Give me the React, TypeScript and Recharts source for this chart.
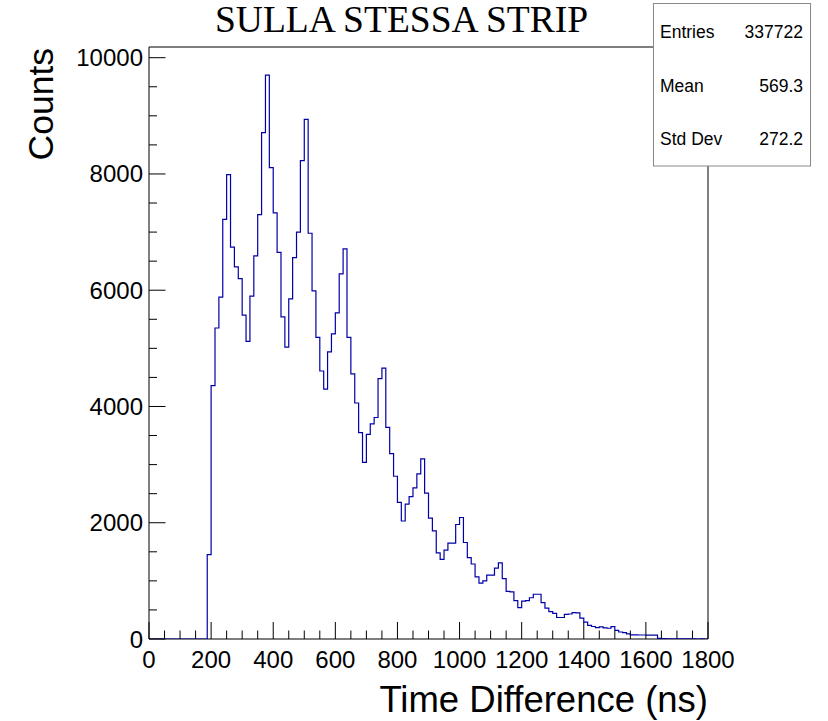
import React from 'react';
import { LineChart, Line, XAxis, YAxis, ReferenceArea } from 'recharts';

// Histogram: 144 bins of 12.5 ns from 0 to 1800 ns
const BIN_WIDTH = 12.5;
const X_MAX = 1800;
const Y_MAX = 10184;

const counts: number[] = [
  0, 0, 0, 0, 0, 0, 0, 0, 0, 0, 0, 0, 0, 0, 0,
  1450, 4360, 5350, 5880, 7220, 7990, 6740, 6400, 6200, 5570,
  5120, 5900, 6590, 7300, 8710, 9700, 8110, 7330, 6650, 5540,
  5020, 5850, 6560, 7000, 8230, 8940, 6980, 5990, 5190, 4610,
  4300, 4940, 5250, 5610, 6280, 6710, 5190, 4560, 4060, 3550,
  3040, 3520, 3700, 3810, 4480, 4660, 3640, 3190, 2800, 2350,
  2030, 2320, 2450, 2600, 2840, 3100, 2510, 2080, 1860, 1480,
  1370, 1530, 1650, 1650, 1970, 2090, 1660, 1400, 1290, 1070,
  960, 1000, 1100, 1100, 1220, 1310, 1040, 820, 810, 660,
  540, 650, 660, 710, 770, 770, 625, 530, 470, 440,
  370, 370, 425, 430, 455, 450, 360, 290, 235, 215,
  195, 210, 190, 185, 212, 150, 120, 110, 88, 70,
  70, 69, 69, 68, 68, 65, 12, 5, 4, 3,
  3, 2, 2, 1, 1, 1, 0, 1, 0,
];

const xTicks = [
  0, 50, 100, 150, 200, 250, 300, 350, 400, 450, 500, 550, 600, 650, 700, 750,
  800, 850, 900, 950, 1000, 1050, 1100, 1150, 1200, 1250, 1300, 1350, 1400,
  1450, 1500, 1550, 1600, 1650, 1700, 1750, 1800,
];
const xLabelTicks = [0, 200, 400, 600, 800, 1000, 1200, 1400, 1600, 1800];
const yTicks = [
  0, 500, 1000, 1500, 2000, 2500, 3000, 3500, 4000, 4500, 5000, 5500, 6000,
  6500, 7000, 7500, 8000, 8500, 9000, 9500, 10000,
];
const yLabelTicks = [0, 2000, 4000, 6000, 8000, 10000];

const title = 'SULLA STESSA STRIP';
const xTitle = 'Time Difference (ns)';
const yTitle = 'Counts';
const statLabels = ['Entries', 'Mean', 'Std Dev'];
const statValues = ['337722', '569.3', '272.2'];

const data = counts
  .map((c, i) => ({ x: i * BIN_WIDTH, y: c }))
  .concat([{ x: X_MAX, y: counts[counts.length - 1] }]);

const SANS = '"Liberation Sans", Arial, Helvetica, sans-serif';
const SERIF = '"Liberation Serif", "Times New Roman", serif';

const XTick = (props: any) => {
  const { x, y, payload } = props;
  const v = payload.value;
  const major = xLabelTicks.includes(v);
  return (
    <g>
      <line x1={x} x2={x} y1={y} y2={y - (major ? 17 : 8.5)} stroke="#000" strokeWidth={1} />
      {major && (
        <text x={x} y={y + 29} textAnchor="middle" fontSize={24} fontFamily={SANS} fill="#000">
          {v}
        </text>
      )}
    </g>
  );
};

const YTick = (props: any) => {
  const { x, y, payload } = props;
  const v = payload.value;
  const major = yLabelTicks.includes(v);
  return (
    <g>
      <line x1={x} x2={x + (major ? 16.5 : 8)} y1={y} y2={y} stroke="#000" strokeWidth={1} />
      {major && (
        <text x={x - 6} y={y + 8.5} textAnchor="end" fontSize={24} fontFamily={SANS} fill="#000">
          {v}
        </text>
      )}
    </g>
  );
};

export default function App() {
  return (
    <div style={{ position: 'absolute', left: 0, top: 0, width: 828, height: 721, background: '#fff' }}>
      <LineChart
        width={828}
        height={721}
        data={data}
        margin={{ top: 47, right: 120, bottom: 0, left: 0 }}
      >
        <XAxis
          type="number"
          dataKey="x"
          domain={[0, X_MAX]}
          ticks={xTicks}
          interval={0}
          height={82}
          tickSize={0}
          tickMargin={0}
          tickLine={false}
          axisLine={false}
          tick={<XTick />}
          allowDataOverflow
        />
        <YAxis
          type="number"
          domain={[0, Y_MAX]}
          ticks={yTicks}
          interval={0}
          width={149}
          tickSize={0}
          tickMargin={0}
          tickLine={false}
          axisLine={false}
          tick={<YTick />}
          allowDataOverflow
        />
        <ReferenceArea
          x1={0}
          x2={X_MAX}
          y1={0}
          y2={Y_MAX}
          fill="none"
          fillOpacity={0}
          stroke="#000"
          strokeWidth={1}
          ifOverflow="visible"
        />
        <Line
          type="stepAfter"
          dataKey="y"
          stroke="#0000a8"
          strokeWidth={1.2}
          dot={false}
          activeDot={false}
          isAnimationActive={false}
        />
      </LineChart>
      <svg
        width={828}
        height={721}
        style={{ position: 'absolute', left: 0, top: 0, pointerEvents: 'none' }}
      >
        <text x={401.5} y={31.5} textAnchor="middle" fontSize={37.5} fontFamily={SERIF} fill="#000">
          {title}
        </text>
        <text x={708} y={712} textAnchor="end" fontSize={36.5} fontFamily={SANS} fill="#000">
          {xTitle}
        </text>
        <text
          x={53}
          y={48}
          textAnchor="end"
          fontSize={35.5}
          fontFamily={SANS}
          fill="#000"
          transform="rotate(-90 53 48)"
        >
          {yTitle}
        </text>
        <rect x={653.5} y={3.5} width={157} height={162.5} fill="#fff" stroke="#888" strokeWidth={1} />
        {statLabels.map((s, i) => (
          <text key={s} x={660} y={38 + i * 53.5} fontSize={17.5} fontFamily={SANS} fill="#000">
            {s}
          </text>
        ))}
        {statValues.map((s, i) => (
          <text key={s} x={803} y={38 + i * 53.5} textAnchor="end" fontSize={17.5} fontFamily={SANS} fill="#000">
            {s}
          </text>
        ))}
      </svg>
    </div>
  );
}
